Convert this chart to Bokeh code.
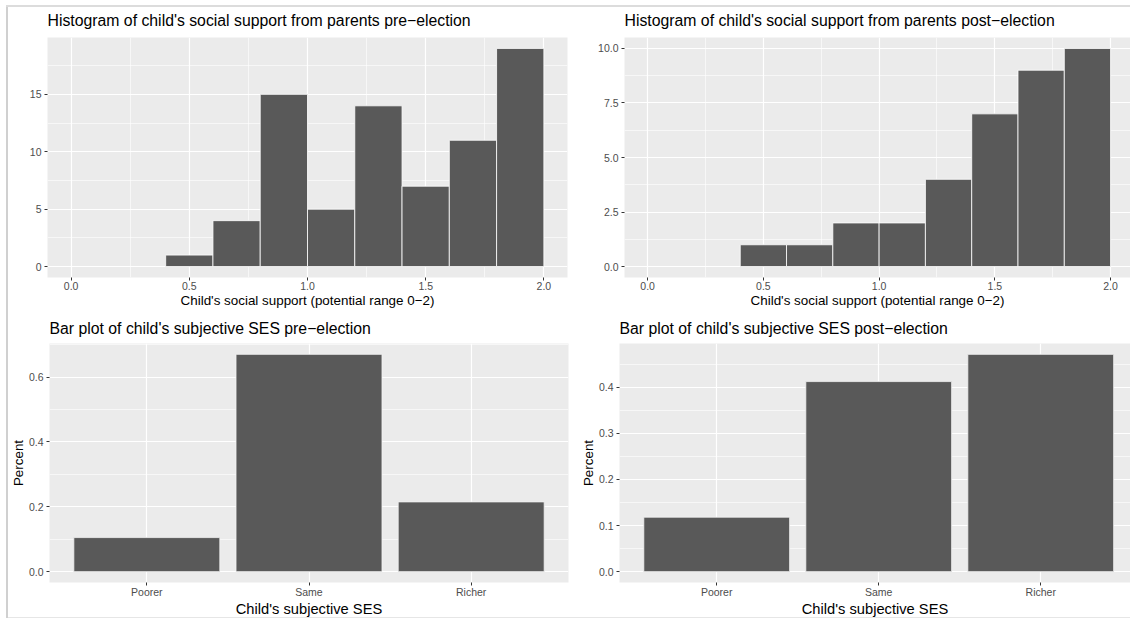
from bokeh.plotting import figure
from bokeh.layouts import column, row
from bokeh.models import Range1d, FixedTicker, NumeralTickFormatter, Title
from bokeh.embed import file_html
from bokeh.resources import INLINE

# ---- data -------------------------------------------------------------
bin_edges = [0.4, 0.6, 0.8, 1.0, 1.2, 1.4, 1.6, 1.8, 2.0]
support_pre_counts = [1, 4, 15, 5, 14, 7, 11, 19]
support_post_counts = [1, 1, 2, 2, 4, 7, 9, 10]

ses_levels = ["Poorer", "Same", "Richer"]
ses_pre_share = [0.105, 0.670, 0.215]
ses_post_share = [0.118, 0.412, 0.471]

support_ticks = [0.0, 0.5, 1.0, 1.5, 2.0]
support_minor = [-0.25, 0.25, 0.75, 1.25, 1.75, 2.25]
pre_count_ticks = [0, 5, 10, 15]
pre_count_minor = [-2.5, 2.5, 7.5, 12.5, 17.5]
post_count_ticks = [0.0, 2.5, 5.0, 7.5, 10.0]
post_count_minor = [-1.25, 1.25, 3.75, 6.25, 8.75]
pre_share_ticks = [0.0, 0.2, 0.4, 0.6]
pre_share_minor = [-0.1, 0.1, 0.3, 0.5, 0.7]
post_share_ticks = [0.0, 0.1, 0.2, 0.3, 0.4]
post_share_minor = [-0.05, 0.05, 0.15, 0.25, 0.35, 0.45]

FONT = "Liberation Sans"
PANEL_BG = "#EBEBEB"
BAR_FILL = "#595959"
TICK_TEXT = "#4D4D4D"


def gg_panel(x_range, y_range, frame_w, frame_h, borders, title, title_gap):
    left, right, top, bottom = borders
    p = figure(
        x_range=x_range, y_range=y_range,
        frame_width=frame_w, frame_height=frame_h,
        min_border_left=left, min_border_right=right,
        min_border_top=top, min_border_bottom=bottom,
        output_backend="svg", toolbar_location=None, tools="",
        background_fill_color=PANEL_BG, border_fill_color=None,
        outline_line_color=None,
    )
    p.title = Title(text=title, text_font=FONT, text_font_size="15.8px",
                    text_font_style="normal", text_color="#000000",
                    align="left", standoff=title_gap)
    for ax in (p.xaxis[0], p.yaxis[0]):
        ax.axis_line_color = None
        ax.major_tick_line_color = "#333333"
        ax.major_tick_in = 0
        ax.major_tick_out = 3
        ax.minor_tick_line_color = None
        ax.major_label_text_font = FONT
        ax.major_label_text_font_size = "10.5px"
        ax.major_label_text_color = TICK_TEXT
        ax.axis_label_text_font = FONT
        ax.axis_label_text_font_style = "normal"
        ax.axis_label_text_color = "#000000"
    p.xaxis.major_label_standoff = 0
    p.xaxis.axis_label_standoff = 0
    p.yaxis.major_label_standoff = 2
    p.yaxis.axis_label_standoff = 0
    for g in (p.xgrid[0], p.ygrid[0]):
        g.grid_line_color = "white"
        g.grid_line_width = 1.2
        g.minor_grid_line_color = "white"
        g.minor_grid_line_width = 0.6
    return p


def histogram(counts, y_ticks, y_minor, y_fmt, x_end, frame_w, borders, title):
    top_count = max(counts)
    pad = 0.05 * top_count
    p = gg_panel(Range1d(-0.1, x_end), Range1d(-pad, top_count + pad),
                 frame_w, 240, borders, title, 17)
    p.xaxis.ticker = FixedTicker(ticks=support_ticks, minor_ticks=support_minor)
    p.xaxis.formatter = NumeralTickFormatter(format="0.0")
    p.yaxis.ticker = FixedTicker(ticks=y_ticks, minor_ticks=y_minor)
    p.yaxis.formatter = NumeralTickFormatter(format=y_fmt)
    p.xaxis.axis_label = "Child's social support (potential range 0\u22122)"
    p.xaxis.axis_label_text_font_size = "13.4px"
    p.quad(left=bin_edges[:-1], right=bin_edges[1:], bottom=0, top=counts,
           fill_color=BAR_FILL, line_color="white", line_width=0.8)
    return p


def share_bars(shares, y_ticks, y_minor, x_end, frame_w, borders, title):
    top_share = max(shares)
    pad = 0.05 * top_share
    p = gg_panel(Range1d(0.4, x_end), Range1d(-pad, top_share + pad),
                 frame_w, 239, borders, title, 13)
    positions = list(range(1, len(ses_levels) + 1))
    p.xaxis.ticker = FixedTicker(ticks=positions, minor_ticks=[])
    p.xaxis.major_label_overrides = {pos: lab for pos, lab in zip(positions, ses_levels)}
    p.xgrid.minor_grid_line_color = None
    p.yaxis.ticker = FixedTicker(ticks=y_ticks, minor_ticks=y_minor)
    p.yaxis.formatter = NumeralTickFormatter(format="0.0")
    p.xaxis.axis_label = "Child's subjective SES"
    p.xaxis.axis_label_text_font_size = "14.7px"
    p.yaxis.axis_label = "Percent"
    p.yaxis.axis_label_text_font_size = "13.4px"
    p.vbar(x=positions, top=shares, width=0.9, bottom=0,
           fill_color=BAR_FILL, line_color="#f2f2f2", line_width=0.8)
    return p


p1 = histogram(support_pre_counts, pre_count_ticks, pre_count_minor, "0",
               2.1, 520, (47, 7, 37, 33),
               "Histogram of child's social support from parents pre\u2212election")
p2 = histogram(support_post_counts, post_count_ticks, post_count_minor, "0.0",
               2.086, 506, (50, 0, 37, 33),
               "Histogram of child's social support from parents post\u2212election")
p3 = share_bars(ses_pre_share, pre_share_ticks, pre_share_minor,
                3.6, 519, (49, 2, 33, 36),
                "Bar plot of child's subjective SES pre\u2212election")
p4 = share_bars(ses_post_share, post_share_ticks, post_share_minor,
                3.554, 511, (49, 0, 33, 36),
                "Bar plot of child's subjective SES post\u2212election")

page = column(row(p1, p2, spacing=0), row(p3, p4, spacing=0), spacing=0)
# thin grey page frame painted behind the transparent figure borders
page.styles = {
    "background-color": "white",
    "background-image": ("linear-gradient(#dcdcdc, #dcdcdc), "
                         "linear-gradient(#d0d0d0, #d0d0d0), "
                         "linear-gradient(#e6e6e6, #e6e6e6)"),
    "background-size": "1124px 2px, 2px 613px, 1124px 1px",
    "background-position": "6px 5px, 6px 5px, 6px 617px",
    "background-repeat": "no-repeat",
}

open("out.html", "w").write(file_html(page, INLINE))
